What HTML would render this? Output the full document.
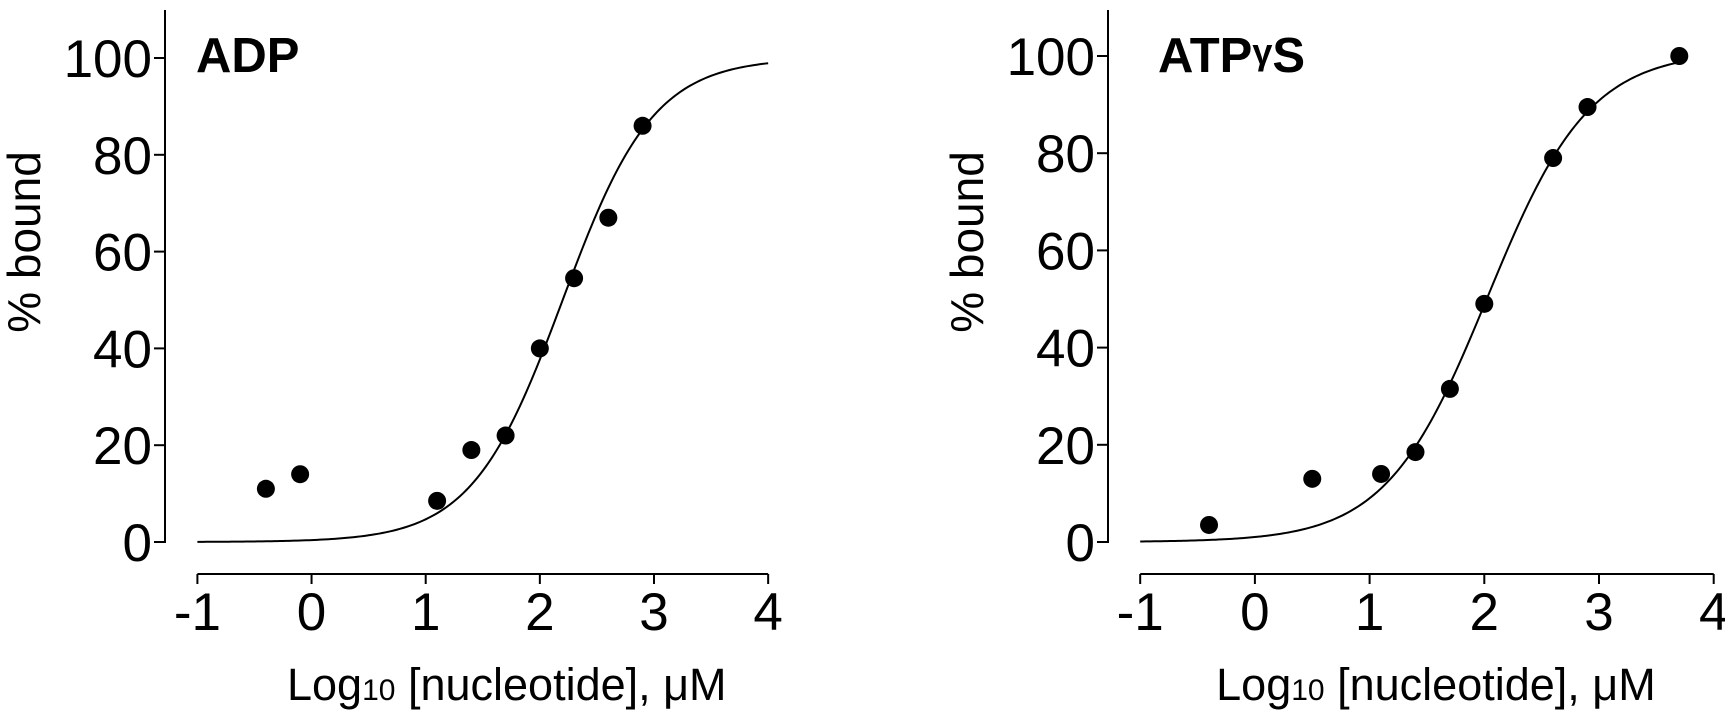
<!DOCTYPE html>
<html><head><meta charset="utf-8"><style>
html,body{margin:0;padding:0;background:#fff}
svg{display:block;font-family:"Liberation Sans",Arial,sans-serif}
</style></head><body>
<svg id="chart" width="1725" height="715" viewBox="0 0 1725 715"></svg>
<script>
const xTicks = [-1, 0, 1, 2, 3, 4];
const yTicks = [0, 20, 40, 60, 80, 100];
const adpX = [-0.4, -0.1, 1.1, 1.4, 1.7, 2.0, 2.3, 2.6, 2.9];
const adpY = [11, 14, 8.5, 19, 22, 40, 54.5, 67, 86];
const adpFit = [2.2, 1.09, 100, -1, 4]; // ec50, hill, top, xmin, xmax
const atpX = [-0.4, 0.5, 1.1, 1.4, 1.7, 2.0, 2.6, 2.9, 3.7];
const atpY = [3.5, 13, 14, 18.5, 31.5, 49, 79, 89.5, 100];
const atpFit = [2.03, 0.98, 101, -1, 3.7];

const NS = "http://www.w3.org/2000/svg";
const svg = document.getElementById('chart');
function mk(tag, attrs, parent) {
  const e = document.createElementNS(NS, tag);
  for (const k in attrs) e.setAttribute(k, attrs[k]);
  (parent || svg).appendChild(e);
  return e;
}
function panel(cfg) {
  const g = mk('g', {});
  
  
  const sx = v => cfg.x0 + (v - (-1)) * cfg.unit;
  const sy = v => cfg.yb + (cfg.yt - cfg.yb) * v / 100;
  const ya = mk('line', {x1: cfg.yx, y1: 10, x2: cfg.yx, y2: sy(0) + 1, stroke: '#000', 'stroke-width': 2}, g);
  
  
  yTicks.forEach(t => {
    mk('line', {x1: cfg.yx - 11, y1: sy(t), x2: cfg.yx, y2: sy(t), stroke: '#000', 'stroke-width': 2}, g);
    const tx = mk('text', {x: cfg.yx - 13, y: sy(t) + 19, 'font-size': 53, 'text-anchor': 'end'}, g);
    tx.textContent = t;
    
    
  });
  const xa = mk('line', {x1: sx(-1), y1: cfg.xaY, x2: sx(4), y2: cfg.xaY, stroke: '#000', 'stroke-width': 2}, g);
  
  
  xTicks.forEach(t => {
    mk('line', {x1: sx(t), y1: cfg.xaY, x2: sx(t), y2: cfg.xaY + 10, stroke: '#000', 'stroke-width': 2}, g);
    const tx = mk('text', {x: sx(t), y: cfg.xaY + 56, 'font-size': 53, 'text-anchor': 'middle'}, g);
    tx.textContent = t;
    
    
  });
  const yt = mk('text', {x: 0, y: 0, 'font-size': 46, 'text-anchor': 'middle', transform: `translate(${cfg.ytx},242) rotate(-90)`}, g);
  yt.textContent = '% bound';
  
  
  const xt = mk('text', {x: (sx(-1) + sx(4)) / 2 + cfg.xtOff, y: 700, 'font-size': 45, 'text-anchor': 'middle'}, g);
  xt.innerHTML = 'Log<tspan font-size="30">10</tspan> [nucleotide], μM';
  
  
  const lb = mk('text', {x: cfg.lx, y: 72, 'font-size': 49, 'font-weight': 'bold'}, g);
  lb.innerHTML = cfg.label;
  
  
  const [ec, h, top, xmin, xmax] = cfg.fit;
  let d = '';
  for (let i = 0; i <= 200; i++) {
    const x = xmin + (xmax - xmin) * i / 200;
    const y = top / (1 + Math.pow(10, (ec - x) * h));
    d += (i ? 'L' : 'M') + sx(x).toFixed(2) + ',' + sy(y).toFixed(2);
  }
  const c = mk('path', {d: d, fill: 'none', stroke: '#000', 'stroke-width': 2}, g);
  
  
  cfg.xs.forEach((x, i) => {
    const p = mk('circle', {cx: sx(x), cy: sy(cfg.ys[i]), r: 9, fill: '#000'}, g);
    
    
  });
}
panel({name: 'adp', yx: 165, yt: 58, yb: 542, xaY: 574, x0: 197.4, unit: 114.15, ytx: 40, lx: 196, xtOff: 24, label: 'ADP', xs: adpX, ys: adpY, fit: adpFit});
panel({name: 'atpgs', yx: 1108, yt: 56, yb: 542, xaY: 574, x0: 1140.2, unit: 114.7, ytx: 983, lx: 1158, xtOff: 9, label: 'ATP<tspan font-size="36" dy="-8">γ</tspan><tspan dy="8">S</tspan>', xs: atpX, ys: atpY, fit: atpFit});
</script>
</body></html>
